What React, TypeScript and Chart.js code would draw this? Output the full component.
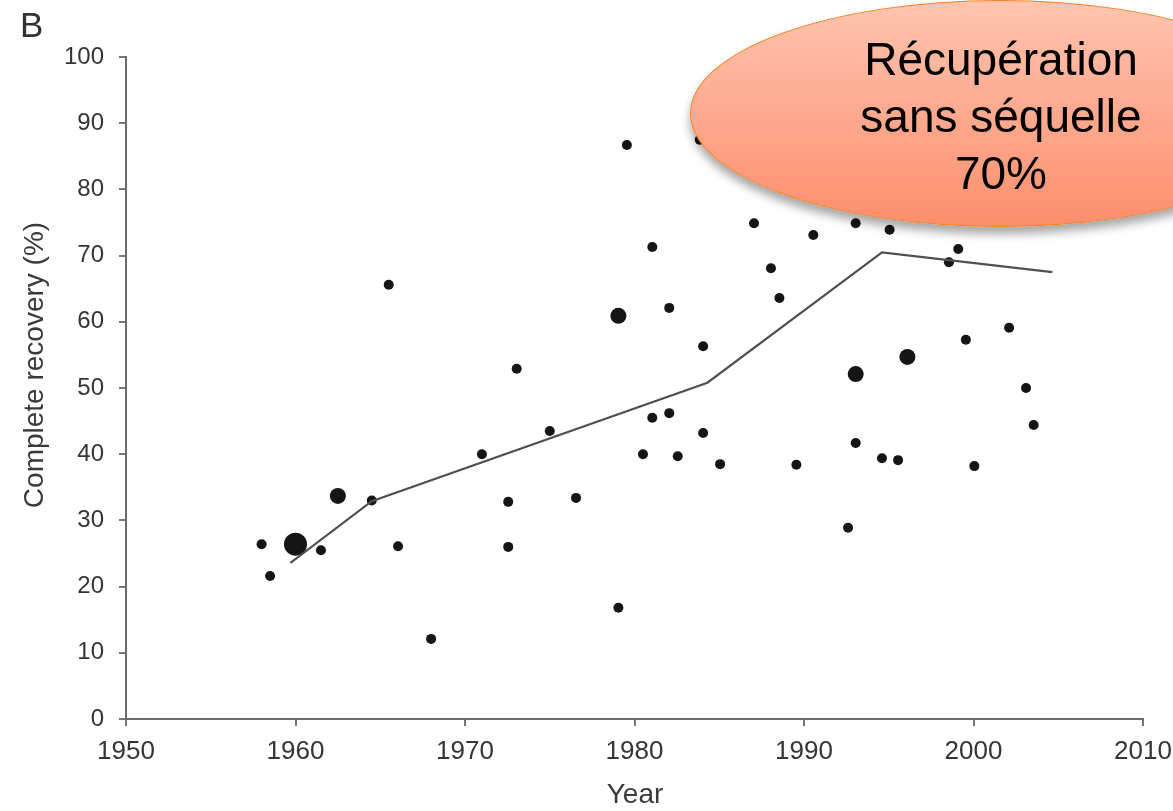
import React, { useEffect, useRef } from 'react';
import { Chart, registerables } from 'chart.js';

Chart.register(...registerables);

// Study publication year and % complete recovery
const studyYears = [
  1958.0, 1958.5, 1960.0, 1961.5, 1962.5, 1964.5, 1965.5, 1966.05, 1968.0, 1971.0,
  1972.55, 1972.55, 1973.05, 1975.0, 1976.55, 1979.05, 1979.05, 1979.55, 1980.5, 1981.05,
  1981.05, 1982.05, 1982.05, 1982.55, 1983.85, 1984.05, 1984.05, 1985.05, 1987.05, 1988.05,
  1988.55, 1989.55, 1990.55, 1992.6, 1993.05, 1993.05, 1993.05, 1994.6, 1995.05, 1995.55,
  1996.1, 1998.55, 1999.1, 1999.55, 2000.05, 2002.1, 2003.1, 2003.55,
];
const completeRecovery = [
  26.4, 21.6, 26.4, 25.5, 33.7, 33.0, 65.6, 26.1, 12.1, 40.0,
  32.8, 26.0, 52.9, 43.5, 33.4, 16.8, 60.9, 86.7, 40.0, 71.3,
  45.5, 62.1, 46.2, 39.7, 87.5, 56.3, 43.2, 38.5, 74.9, 68.1,
  63.6, 38.4, 73.1, 28.9, 74.9, 52.1, 41.7, 39.4, 73.9, 39.1,
  54.7, 69.0, 71.0, 57.3, 38.2, 59.1, 50.0, 44.4,
];
// relative study size class: 1 small, 2 medium, 3 large
const studyWeight = [
  1, 1, 3, 1, 2, 1, 1, 1, 1, 1,
  1, 1, 1, 1, 1, 1, 2, 1, 1, 1,
  1, 1, 1, 1, 1, 1, 1, 1, 1, 1,
  1, 1, 1, 1, 1, 2, 1, 1, 1, 1,
  2, 1, 1, 1, 1, 1, 1, 1,
];
// Piecewise trend line
const trendYears = [1959.7, 1964.5, 1984.3, 1994.6, 2004.65];
const trendRecovery = [23.6, 32.9, 50.8, 70.5, 67.5];

const xTickValues = [1950, 1960, 1970, 1980, 1990, 2000, 2010];
const yTickValues = [0, 10, 20, 30, 40, 50, 60, 70, 80, 90, 100];

const panelLabel = 'B';
const xTitle = 'Year';
const yTitle = 'Complete recovery (%)';
const calloutLines = ['Récupération', 'sans séquelle', '70%'];

const FONT = 'Arial, "Liberation Sans", Helvetica, sans-serif';
const radiusFor = (w: number) => (w === 3 ? 11.5 : w === 2 ? 8 : 5);

export default function App() {
  const canvasRef = useRef<HTMLCanvasElement | null>(null);

  useEffect(() => {
    if (!canvasRef.current) return;
    const points = studyYears.map((x, i) => ({ x, y: completeRecovery[i] }));
    const radii = studyWeight.map(radiusFor);
    const trend = trendYears.map((x, i) => ({ x, y: trendRecovery[i] }));

    const chart = new Chart(canvasRef.current, {
      type: 'scatter',
      data: {
        datasets: [
          {
            type: 'line',
            data: trend,
            borderColor: '#505050',
            borderWidth: 2.2,
            pointRadius: 0,
            fill: false,
            tension: 0,
          } as any,
          {
            data: points,
            backgroundColor: '#151515',
            borderColor: '#151515',
            borderWidth: 0,
            pointRadius: radii,
            pointHoverRadius: radii,
          },
        ],
      },
      options: {
        responsive: false,
        animation: false,
        events: [],
        plugins: { legend: { display: false }, tooltip: { enabled: false } },
        layout: { padding: { left: 0, top: 57, right: 30, bottom: 0 } },
        scales: {
          x: {
            type: 'linear',
            min: 1950,
            max: 2010,
            afterFit: (s: any) => {
              s.height = 92;
              s.paddingLeft = 0;
              s.paddingRight = 0;
            },
            afterBuildTicks: (s: any) => {
              s.ticks = xTickValues.map((v) => ({ value: v }));
            },
            ticks: {
              font: { family: FONT, size: 26 },
              color: '#353535',
              padding: 10,
              maxRotation: 0,
              autoSkip: false,
              callback: (v: any) => String(v),
            },
            grid: {
              display: true,
              drawOnChartArea: false,
              drawTicks: true,
              tickLength: 7,
              color: '#777',
              lineWidth: 2,
            },
            border: { display: true, color: '#6b6b6b', width: 2 },
          },
          y: {
            type: 'linear',
            min: 0,
            max: 100,
            afterFit: (s: any) => {
              s.width = 126;
              s.paddingTop = 0;
              s.paddingBottom = 0;
            },
            afterBuildTicks: (s: any) => {
              s.ticks = yTickValues.map((v) => ({ value: v }));
            },
            ticks: {
              font: { family: FONT, size: 24 },
              color: '#353535',
              padding: 15,
              autoSkip: false,
              callback: (v: any) => String(v),
            },
            grid: {
              display: true,
              drawOnChartArea: false,
              drawTicks: true,
              tickLength: 7,
              color: '#777',
              lineWidth: 2,
            },
            border: { display: true, color: '#6b6b6b', width: 2 },
          },
        },
      },
    });
    return () => chart.destroy();
  }, []);

  return (
    <div
      style={{
        position: 'fixed',
        left: 0,
        top: 0,
        width: 1173,
        height: 811,
        overflow: 'hidden',
        background: '#fff',
        fontFamily: FONT,
      }}
    >
      <canvas
        ref={canvasRef}
        width={1173}
        height={811}
        style={{ position: 'absolute', left: 0, top: 0, width: 1173, height: 811 }}
      />
      <div
        style={{
          position: 'absolute',
          left: 20,
          top: 7,
          fontSize: 35,
          lineHeight: '35px',
          color: '#333',
        }}
      >
        {panelLabel}
      </div>
      <div
        style={{
          position: 'absolute',
          left: 34 - 200,
          top: 365 - 14,
          width: 400,
          height: 28,
          lineHeight: '28px',
          fontSize: 28,
          textAlign: 'center',
          color: '#3a3a3a',
          transform: 'rotate(-90deg)',
          transformOrigin: '50% 50%',
          whiteSpace: 'nowrap',
        }}
      >
        {yTitle}
      </div>
      <div
        style={{
          position: 'absolute',
          left: 635 - 200,
          top: 780,
          width: 400,
          lineHeight: '28px',
          fontSize: 28,
          textAlign: 'center',
          color: '#3a3a3a',
        }}
      >
        {xTitle}
      </div>
      <div
        style={{
          position: 'absolute',
          left: 690,
          top: 0,
          width: 620,
          height: 227,
          boxSizing: 'border-box',
          borderRadius: '50%',
          border: '1.5px solid #f5821f',
          background: 'linear-gradient(to bottom, #ffc4af 0%, #fdaa8f 50%, #fc8e6c 100%)',
          boxShadow: '0 7px 10px rgba(0,0,0,0.35)',
        }}
      />
      <div
        style={{
          position: 'absolute',
          left: 1001 - 200,
          top: 31,
          width: 400,
          fontSize: 46,
          lineHeight: '57px',
          textAlign: 'center',
          color: '#000',
          whiteSpace: 'nowrap',
        }}
      >
        {calloutLines.map((l, i) => (
          <div key={i}>{l}</div>
        ))}
      </div>
    </div>
  );
}
